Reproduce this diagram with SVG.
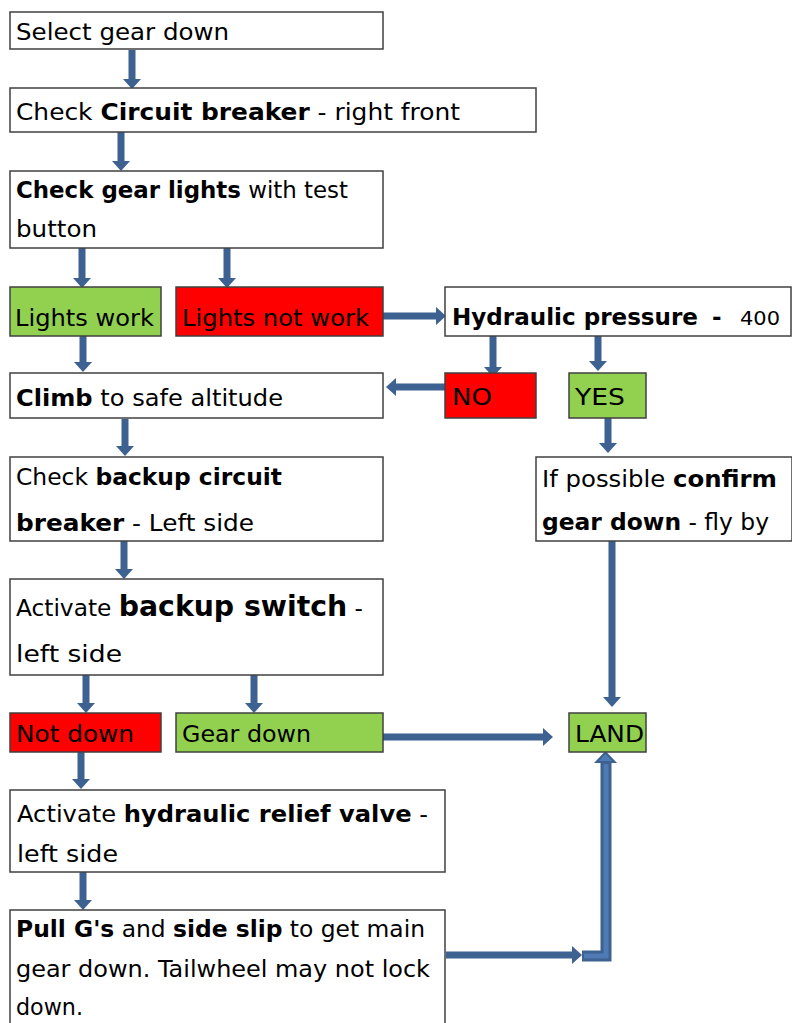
<svg xmlns="http://www.w3.org/2000/svg" width="792" height="1023" viewBox="0 0 792 1023">
<style>
  .box { fill: #ffffff; stroke: #404040; stroke-width: 1.5; }
  .green { fill: #92d050; stroke: #404040; stroke-width: 1.5; }
  .red { fill: #ff0000; stroke: #404040; stroke-width: 1.5; }
  text { font-family: "DejaVu Sans", "Liberation Sans", sans-serif; font-size: 23px; fill: #000000; }
  .b { font-weight: bold; }
  .big { font-size: 28px; font-weight: bold; }
  .small { font-size: 20px; }
  .arrow { fill: none; stroke: #3d6190; stroke-width: 7; marker-end: url(#head); }
  .elbow { fill: none; stroke: #3d6190; stroke-width: 11; }
  .elbowIn { fill: none; stroke: #4f7bb5; stroke-width: 5; }
</style>
<defs>
  <marker id="head" markerUnits="userSpaceOnUse" viewBox="0 0 10 18" refX="0" refY="9" markerWidth="10" markerHeight="18" orient="auto">
    <path d="M0,0 L10,9 L0,18 Z" fill="#3d6190"/>
  </marker>
</defs>

<g id="connectors">
  <path class="arrow" d="M132,50 V79"/>
  <path class="arrow" d="M121,132 V161"/>
  <path class="arrow" d="M82,248 V278"/>
  <path class="arrow" d="M227,248 V278"/>
  <path class="arrow" d="M83,336 V362"/>
  <path class="arrow" d="M383,316 H436"/>
  <path class="arrow" d="M493,336 V367"/>
  <path class="arrow" d="M598,336 V361"/>
  <path class="arrow" d="M445,387 H396"/>
  <path class="arrow" d="M125,419 V446"/>
  <path class="arrow" d="M608,418 V443"/>
  <path class="arrow" d="M612,541 V697"/>
  <path class="arrow" d="M124,541 V569"/>
  <path class="arrow" d="M86,675 V703"/>
  <path class="arrow" d="M254,675 V703"/>
  <path class="arrow" d="M383,737 H543"/>
  <path class="arrow" d="M81,752 V779"/>
  <path class="arrow" d="M83,872 V900"/>
  <path class="arrow" d="M446,955 H572"/>
  <path class="elbow" d="M582,956 H606 V762"/>
  <path class="elbowIn" d="M584,956 H606 V764"/>
  <polygon points="594,763 605.5,751 617,763" fill="#3d6190"/>
  <polygon points="599,761 605.5,754 612,761" fill="#4f7bb5"/>
</g>

<g id="n1">
  <rect class="box" x="10" y="12" width="373" height="37"/>
  <text x="16" y="40" textLength="213" lengthAdjust="spacingAndGlyphs">Select gear down</text>
</g>
<g id="n2">
  <rect class="box" x="10" y="88" width="526" height="44"/>
  <text x="16" y="120" textLength="444" lengthAdjust="spacingAndGlyphs">Check <tspan class="b">Circuit breaker</tspan> - right front</text>
</g>
<g id="n3">
  <rect class="box" x="10" y="171" width="373" height="77"/>
  <text x="16" y="198" textLength="332" lengthAdjust="spacingAndGlyphs"><tspan class="b">Check gear lights</tspan> with test</text>
  <text x="16" y="237" textLength="81" lengthAdjust="spacingAndGlyphs">button</text>
</g>
<g id="n4">
  <rect class="green" x="10" y="287" width="151" height="49"/>
  <text x="15" y="326" textLength="139" lengthAdjust="spacingAndGlyphs">Lights work</text>
</g>
<g id="n5">
  <rect class="red" x="176" y="287" width="207" height="49"/>
  <text x="182" y="326" textLength="187" lengthAdjust="spacingAndGlyphs">Lights not work</text>
</g>
<g id="n6">
  <rect class="box" x="445" y="287" width="346" height="49"/>
  <text class="b" x="452" y="325" textLength="246" lengthAdjust="spacingAndGlyphs">Hydraulic pressure</text>
  <text class="b" x="712" y="325">-</text>
  <text class="small" x="740" y="325" textLength="40" lengthAdjust="spacingAndGlyphs">400</text>
</g>
<g id="n7">
  <rect class="box" x="10" y="373" width="373" height="45"/>
  <text x="16" y="406" textLength="267" lengthAdjust="spacingAndGlyphs"><tspan class="b">Climb</tspan> to safe altitude</text>
</g>
<g id="n8">
  <rect class="red" x="445" y="373" width="91" height="45"/>
  <text x="452" y="405" textLength="40" lengthAdjust="spacingAndGlyphs">NO</text>
</g>
<g id="n9">
  <rect class="green" x="569" y="373" width="77" height="45"/>
  <text x="575" y="405" textLength="50" lengthAdjust="spacingAndGlyphs">YES</text>
</g>
<g id="n10">
  <rect class="box" x="10" y="457" width="373" height="84"/>
  <text x="16" y="485" textLength="266" lengthAdjust="spacingAndGlyphs">Check <tspan class="b">backup circuit</tspan></text>
  <text x="16" y="531" textLength="238" lengthAdjust="spacingAndGlyphs"><tspan class="b">breaker</tspan> - Left side</text>
</g>
<g id="n11">
  <rect class="box" x="536" y="457" width="256" height="84"/>
  <text x="542" y="487" textLength="235" lengthAdjust="spacingAndGlyphs">If possible <tspan class="b">confirm</tspan></text>
  <text x="542" y="530" textLength="227" lengthAdjust="spacingAndGlyphs"><tspan class="b">gear down</tspan> - fly by</text>
</g>
<g id="n12">
  <rect class="box" x="10" y="579" width="373" height="96"/>
  <text x="16" y="616" textLength="347" lengthAdjust="spacingAndGlyphs">Activate <tspan class="big">backup switch</tspan> -</text>
  <text x="16" y="662" textLength="106" lengthAdjust="spacingAndGlyphs">left side</text>
</g>
<g id="n13">
  <rect class="red" x="10" y="713" width="151" height="39"/>
  <text x="16" y="742" textLength="118" lengthAdjust="spacingAndGlyphs">Not down</text>
</g>
<g id="n14">
  <rect class="green" x="176" y="713" width="207" height="39"/>
  <text x="182" y="742" textLength="129" lengthAdjust="spacingAndGlyphs">Gear down</text>
</g>
<g id="n15">
  <rect class="green" x="569" y="713" width="77" height="39"/>
  <text x="575" y="742" textLength="69" lengthAdjust="spacingAndGlyphs">LAND</text>
</g>
<g id="n16">
  <rect class="box" x="10" y="790" width="435" height="82"/>
  <text x="17" y="822" textLength="411" lengthAdjust="spacingAndGlyphs">Activate <tspan class="b">hydraulic relief valve</tspan> -</text>
  <text x="17" y="862" textLength="101" lengthAdjust="spacingAndGlyphs">left side</text>
</g>
<g id="n17">
  <rect class="box" x="10" y="910" width="435" height="120"/>
  <text x="16" y="937" textLength="409" lengthAdjust="spacingAndGlyphs"><tspan class="b">Pull G's</tspan> and <tspan class="b">side slip</tspan> to get main</text>
  <text x="16" y="977" textLength="414" lengthAdjust="spacingAndGlyphs">gear down. Tailwheel may not lock</text>
  <text x="16" y="1015" textLength="67" lengthAdjust="spacingAndGlyphs">down.</text>
</g>
</svg>
